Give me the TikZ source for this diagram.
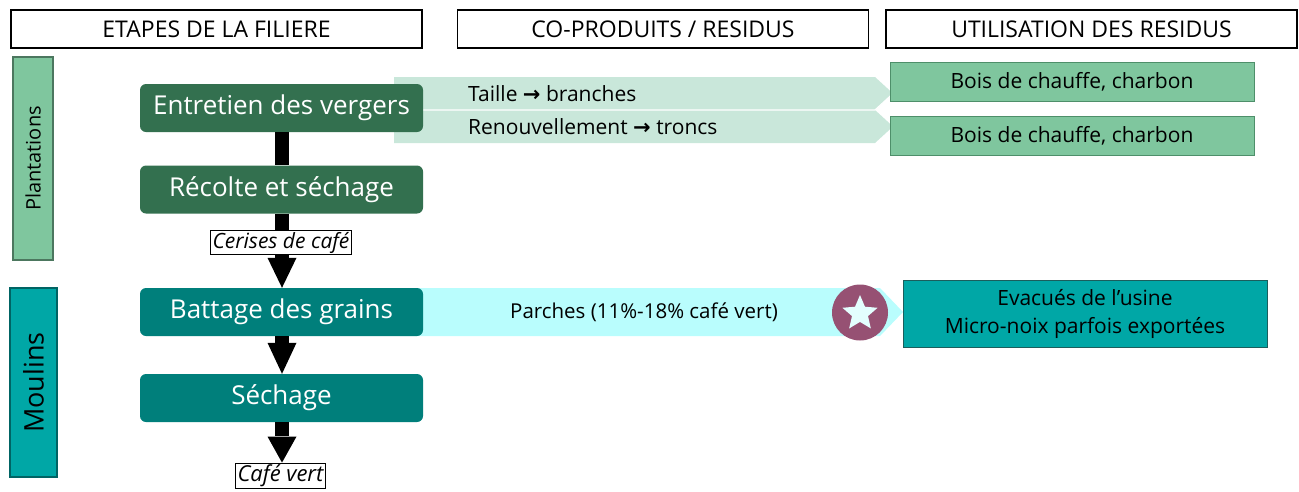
\documentclass[tikz,border=0pt]{standalone}
\usepackage{fontspec}
\setmainfont{Open Sans}
\newfontfamily\symfont{DejaVu Sans}
\usetikzlibrary{shapes.geometric}
\definecolor{dkgreen}{HTML}{33704F}
\definecolor{ltgreen}{HTML}{7FC69E}
\definecolor{ltgreenb}{HTML}{4E8F6A}
\definecolor{bandgreen}{HTML}{C9E7DA}
\definecolor{tealstep}{HTML}{007F7B}
\definecolor{tealbox}{HTML}{00A7A6}
\definecolor{tealborder}{HTML}{1B5E5C}
\definecolor{bandcyan}{HTML}{B9FDFD}
\definecolor{starcol}{HTML}{965173}
\newcommand{\arr}{{\symfont\bfseries →}}
\tikzset{
  hdr/.style={draw=black, line width=1.6pt, fill=white, minimum width=411pt, minimum height=38pt, inner sep=0pt, font=\fontsize{23}{26}\selectfont},
  stepbox/.style={rounded corners=6pt, minimum width=283pt, minimum height=48pt, inner sep=0pt, text=white, font=\fontsize{26}{30}\selectfont},
  sidebar/.style={draw=#1!60!black, line width=1.2pt, fill=#1, rotate=90, inner sep=0pt},
  usebox/.style={draw=ltgreenb, line width=0.8pt, fill=ltgreen, minimum width=364pt, minimum height=39pt, inner sep=0pt, font=\fontsize{21}{24}\selectfont},
  bandtext/.style={anchor=west, inner sep=0pt, font=\fontsize{21}{24}\selectfont},
  lbl/.style={draw=black, line width=0.7pt, fill=white, inner xsep=2pt, inner ysep=1.5pt, font=\itshape\fontsize{21}{24}\selectfont},
  shaft/.style={line width=14pt, black},
}
\begin{document}
\begin{tikzpicture}[x=1pt,y=-1pt]
\useasboundingbox (0,0) rectangle (1299,491);
% headers
\node[hdr] (h1) at (216.5,29) {ETAPES DE LA FILIERE};
\node[hdr] (h2) at (663,29) {CO-PRODUITS / RESIDUS};
\node[hdr] (h3) at (1091.5,29) {UTILISATION DES RESIDUS};
% side bars
\node[sidebar=ltgreen, minimum width=203pt, minimum height=40pt, font=\fontsize{20}{24}\selectfont] (plant) at (33,158.5) {Plantations};
\node[sidebar=tealbox, minimum width=189pt, minimum height=47pt, font=\fontsize{27}{30}\selectfont] (moul) at (33.5,382.5) {Moulins};
% bands
\fill[bandgreen] (394,77) -- (875,77) -- (893,93.5) -- (875,110) -- (394,110) -- cycle;
\fill[bandgreen] (394,110) -- (875,110) -- (893,126.5) -- (875,143) -- (394,143) -- cycle;
\draw[white, line width=1.2pt] (394,110) -- (875,110) -- (893,93.5);
\fill[bandcyan] (400,288) -- (880,288) -- (903,312) -- (880,336) -- (400,336) -- cycle;
% steps
\node[stepbox, fill=dkgreen] (e) at (281.5,108) {Entretien des vergers};
\node[stepbox, fill=dkgreen] (r) at (281.5,189.5) {Récolte et séchage};
\node[stepbox, fill=tealstep] (b) at (281.5,312) {Battage des grains};
\node[stepbox, fill=tealstep] (s) at (281.5,398) {Séchage};
% band texts
\node[bandtext] (t1) at (468,93.5) {Taille \arr{} branches};
\node[bandtext] (t2) at (468,127) {Renouvellement \arr{} troncs};
\node[inner sep=0pt, font=\fontsize{20.5}{24}\selectfont] (p) at (644,312) {Parches (11\%-18\% café vert)};
% star
\node[circle, fill=starcol, minimum size=56pt, inner sep=0pt] (c) at (860,312.5) {};
\node[star, star points=5, star point ratio=2.2, fill=bandcyan!40!white, minimum size=37pt, inner sep=0pt] (st) at ([yshift=-1pt]c.center) {};
% utilisation boxes
\node[usebox] (u1) at (1072,81.5) {Bois de chauffe, charbon};
\node[usebox] (u2) at (1072,135.5) {Bois de chauffe, charbon};
\node[draw=tealborder, line width=0.8pt, fill=tealbox, minimum width=364pt, minimum height=67pt, inner sep=0pt, align=center, font=\fontsize{21}{28}\selectfont] (u3) at (1085,313.5) {Evacués de l’usine\\Micro-noix parfois exportées};
% arrows
\coordinate (hd1) at (282,258);
\draw[shaft] (e.south -| hd1) -- (r.north -| hd1);
\draw[shaft] (r.south -| hd1) -- (hd1);
\fill (b.north -| hd1) -- ++(-14.5,-30) -- ++(29,0) -- cycle;
\node[lbl] (cer) at (281,242.5) {Cerises de café};
\draw[shaft] (b.south -| hd1) -- ++(0,8);
\fill (s.north -| hd1) -- ++(-14.5,-31) -- ++(29,0) -- cycle;
\node[lbl, font=\itshape\fontsize{22}{24}\selectfont] (cv) at (280.5,475.5) {Café vert};
\draw[shaft] (s.south -| hd1) -- ++(0,14);
\fill (cv.north -| hd1) -- ++(-14.5,-26) -- ++(29,0) -- cycle;
\end{tikzpicture}
\end{document}
